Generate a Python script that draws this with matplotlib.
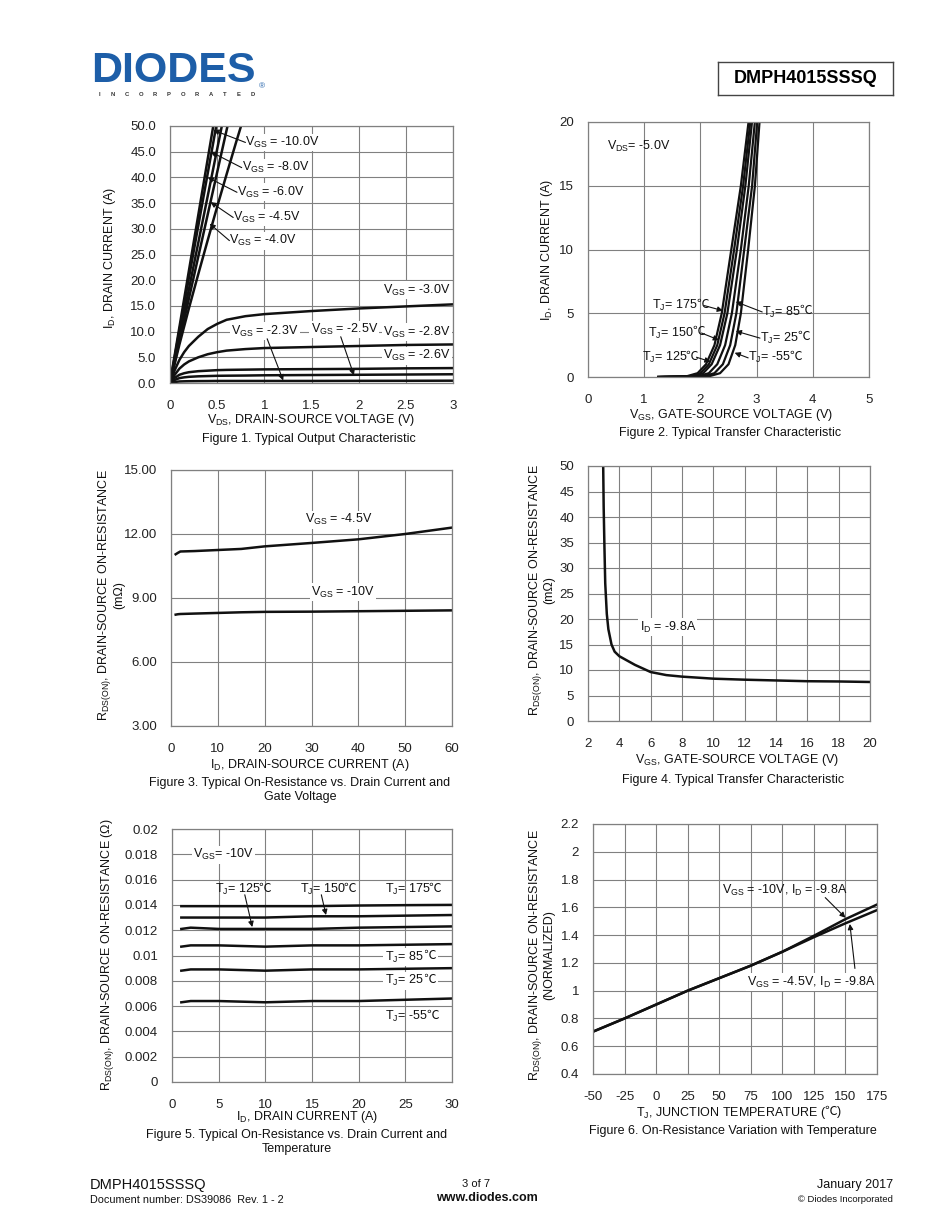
"""Datasheet page 3 of DMPH4015SSSQ: typical characteristics, figures 1-6."""

import matplotlib
matplotlib.use("Agg")
import matplotlib.pyplot as plt

plt.rcParams["font.family"] = ["Liberation Sans", "DejaVu Sans"]
plt.rcParams["mathtext.fontset"] = "custom"
plt.rcParams["mathtext.rm"] = "Liberation Sans"
plt.rcParams["mathtext.it"] = "Liberation Sans"
plt.rcParams["axes.unicode_minus"] = False

W, H = 950, 1230
GRID = "#808080"
BLUE = "#1d5ea8"
FS = 9
TICK_FS = 9.5
DEG_FONT = ["Noto Sans CJK JP", "DejaVu Sans"]

# ---- Figure 1: output characteristic
F1_VDS_STEEP = [0, 0.1, 0.2, 0.3, 0.4, 0.5, 0.6, 0.7, 0.8]
F1_ID_STEEP = {
    "-10.0V": [0, 10.9, 21.8, 32.7, 43.6, 54.5, 65, 76, 87],
    "-8.0V": [0, 10.2, 20.4, 30.6, 40.8, 51, 61, 71, 82],
    "-6.0V": [0, 9.1, 18.2, 27.3, 36.4, 45.5, 54.6, 63.7, 72.8],
    "-4.5V": [0, 8.2, 16.4, 24.6, 32.8, 41, 49.2, 57.4, 65.6],
    "-4.0V": [0, 7.5, 14.5, 21.2, 27.8, 34.3, 40.6, 46.8, 52.8],
}
F1_VDS_FLAT = [0, 0.05, 0.1, 0.15, 0.2, 0.3, 0.4, 0.5, 0.6, 0.8, 1.0, 1.5, 2.0, 2.5, 3.0]
F1_ID_FLAT = {
    "-3.0V": [0, 2.5, 4.5, 6.0, 7.2, 9.0, 10.5, 11.5, 12.3, 13.0, 13.4, 14.0, 14.5, 14.9, 15.3],
    "-2.8V": [0, 1.6, 2.8, 3.6, 4.2, 5.0, 5.6, 6.0, 6.3, 6.6, 6.8, 7.0, 7.2, 7.4, 7.5],
    "-2.6V": [0, 1.0, 1.6, 1.9, 2.1, 2.3, 2.4, 2.5, 2.55, 2.6, 2.65, 2.7, 2.75, 2.85, 2.9],
    "-2.5V": [0, 0.6, 0.95, 1.1, 1.2, 1.3, 1.35, 1.4, 1.42, 1.45, 1.5, 1.55, 1.6, 1.65, 1.7],
    "-2.3V": [0, 0.2, 0.3, 0.33, 0.35, 0.37, 0.38, 0.4, 0.4, 0.4, 0.4, 0.4, 0.42, 0.43, 0.45],
}
F1_XTICKS = [0, 0.5, 1, 1.5, 2, 2.5, 3]
F1_XLABELS = ["0", "0.5", "1", "1.5", "2", "2.5", "3"]
F1_YTICKS = [0, 5, 10, 15, 20, 25, 30, 35, 40, 45, 50]

# ---- Figure 2: transfer characteristic
F2_ID = [0, 0.05, 0.3, 1, 2.5, 5, 10, 15, 20.5]
F2_VGS = {
    "175": [1.25, 1.75, 1.95, 2.10, 2.25, 2.38, 2.55, 2.72, 2.87],
    "150": [1.25, 1.80, 2.00, 2.15, 2.30, 2.43, 2.60, 2.76, 2.90],
    "125": [1.25, 1.85, 2.05, 2.20, 2.35, 2.48, 2.65, 2.80, 2.93],
    "85": [1.25, 1.95, 2.15, 2.30, 2.44, 2.56, 2.72, 2.86, 2.98],
    "25": [1.25, 2.05, 2.25, 2.40, 2.53, 2.64, 2.78, 2.92, 3.02],
    "-55": [1.25, 2.15, 2.35, 2.50, 2.62, 2.72, 2.85, 2.97, 3.06],
}

# ---- Figure 3: Rds(on) vs drain current and gate voltage
F3_ID = [1, 1.5, 2, 5, 10, 15, 20, 30, 40, 50, 60]
F3_R45 = [11.05, 11.12, 11.18, 11.2, 11.25, 11.3, 11.42, 11.58, 11.75, 12.0, 12.3]
F3_R10 = [8.22, 8.24, 8.25, 8.27, 8.3, 8.33, 8.35, 8.36, 8.38, 8.4, 8.42]

# ---- Figure 4: Rds(on) vs gate voltage
F4_VGS = [2.97, 3.0, 3.05, 3.1, 3.2, 3.3, 3.5, 3.7, 4, 5, 6, 7, 8, 10, 12, 14, 16, 18, 20]
F4_R = [50, 42, 34, 27, 21, 18, 15, 13.6, 12.7, 11.0, 9.6, 9.0, 8.7, 8.3, 8.1, 7.95, 7.8, 7.75, 7.65]

# ---- Figure 5: Rds(on) vs drain current and temperature
F5_ID = [1, 2, 5, 10, 15, 20, 25, 30]
F5_R = {
    "175": [0.0139, 0.0139, 0.0139, 0.0139, 0.0139, 0.01395, 0.01398, 0.0140],
    "150": [0.0130, 0.0130, 0.0130, 0.0130, 0.0131, 0.0131, 0.01315, 0.0132],
    "125": [0.0121, 0.0122, 0.0121, 0.0121, 0.0121, 0.0122, 0.01225, 0.0123],
    "85": [0.0107, 0.0108, 0.0108, 0.0107, 0.0108, 0.0108, 0.01085, 0.0109],
    "25": [0.0088, 0.0089, 0.0089, 0.0088, 0.0089, 0.0089, 0.00895, 0.0090],
    "-55": [0.0063, 0.0064, 0.0064, 0.0063, 0.0064, 0.0064, 0.0065, 0.0066],
}
F5_YTICKS = [0, 0.002, 0.004, 0.006, 0.008, 0.01, 0.012, 0.014, 0.016, 0.018, 0.02]
F5_YLABELS = ["0", "0.002", "0.004", "0.006", "0.008", "0.01", "0.012",
              "0.014", "0.016", "0.018", "0.02"]

# ---- Figure 6: normalized Rds(on) vs temperature
F6_TJ = [-50, -25, 0, 25, 50, 75, 100, 125, 150, 175]
F6_R10 = [0.705, 0.80, 0.90, 1.0, 1.09, 1.18, 1.28, 1.395, 1.515, 1.62]
F6_R45 = [0.705, 0.80, 0.90, 1.0, 1.09, 1.18, 1.28, 1.385, 1.485, 1.58]
F6_YTICKS = [0.4, 0.6, 0.8, 1.0, 1.2, 1.4, 1.6, 1.8, 2.0, 2.2]
F6_YLABELS = ["0.4", "0.6", "0.8", "1", "1.2", "1.4", "1.6", "1.8", "2", "2.2"]

DEG_C = "\u2103"


def px(x, y):
    return x / W, 1 - y / H


def make_axes(fig, left, top, right, bottom):
    ax = fig.add_axes([left / W, 1 - bottom / H, (right - left) / W, (bottom - top) / H])
    ax.grid(True, color=GRID, linewidth=0.8)
    ax.set_axisbelow(True)
    for s in ax.spines.values():
        s.set_color(GRID)
        s.set_linewidth(0.9)
    ax.tick_params(length=0, labelsize=TICK_FS, pad=10, colors="#222222")
    ax.tick_params(axis="x", pad=12)
    return ax


def label(ax, text, x, y, ha="left", box=True):
    kw = dict(fontsize=FS, ha=ha, va="center", color="#111111", zorder=4)
    if box:
        kw["bbox"] = dict(facecolor="white", edgecolor="none", pad=1.0)
    return ax.text(x, y, text, **kw)


def deg_after(ax, txt, tail="", box=False):
    # the degree-Celsius sign is missing from the math font, so it is set as its own text;
    # it sits under the main label so the label's white box never hides a digit
    kw = dict(fontsize=FS, ha="left", va="center", color="#111111", zorder=3.9,
              family=DEG_FONT, textcoords="offset points")
    shift = -1.2
    if box:
        kw["bbox"] = dict(facecolor="white", edgecolor="none", pad=1.0)
        shift = 0.2
    t = ax.annotate(DEG_C, xy=(1, 0.58), xycoords=txt, xytext=(shift, 0), **kw)
    if tail:
        kw["family"] = ["Liberation Sans"]
        ax.annotate(tail, xy=(1, 0.5), xycoords=t, xytext=(0, 0), **kw)
    return t


def tj_label(ax, t, x, y, box=False):
    txt = label(ax, f"{TJ}= {t}", x, y, box=box)
    deg_after(ax, txt, box=box)


def arrow(ax, start, tip):
    ax.annotate("", xy=tip, xytext=start, zorder=5,
                arrowprops=dict(arrowstyle="-|>", color="#111111", lw=0.8,
                                mutation_scale=8, shrinkA=0, shrinkB=0))


def ftext(x, y, s, ha="center", rot=0, **kw):
    return fig.text(*px(x, y), s, ha=ha, va="center", rotation=rot,
                    fontsize=kw.pop("fontsize", FS), color=kw.pop("color", "#111111"), **kw)


fig = plt.figure(figsize=(W / 100, H / 100), dpi=100)
fig.set_facecolor("white")

VGS = r"V$_{\mathrm{GS}}$"
TJ = r"T$_{\mathrm{J}}$"

# ---------------- Figure 1
ax = make_axes(fig, 170, 126, 453, 383)
for ids in F1_ID_STEEP.values():
    ax.plot(F1_VDS_STEEP, ids, color="#111111", lw=1.8)
for ids in F1_ID_FLAT.values():
    ax.plot(F1_VDS_FLAT, ids, color="#111111", lw=1.8)
ax.set_xlim(0, 3)
ax.set_ylim(0, 50)
ax.set_xticks(F1_XTICKS, F1_XLABELS)
ax.set_yticks(F1_YTICKS, [f"{v:.1f}" for v in F1_YTICKS])
for name, xy, tip in [("-10.0V", (0.80, 46.8), (0.46, 49.2)),
                      ("-8.0V", (0.76, 41.9), (0.43, 45.0)),
                      ("-6.0V", (0.71, 37.1), (0.40, 40.0)),
                      ("-4.5V", (0.67, 32.2), (0.43, 35.2)),
                      ("-4.0V", (0.63, 27.7), (0.42, 31.0))]:
    label(ax, f"{VGS} = {name}", *xy)
    arrow(ax, xy, tip)
label(ax, f"{VGS} = -3.0V", 2.26, 18.1)
label(ax, f"{VGS} = -2.3V", 0.65, 10.1)
label(ax, f"{VGS} = -2.5V", 1.49, 10.4)
label(ax, f"{VGS} = -2.8V", 2.26, 9.9)
label(ax, f"{VGS} = -2.6V", 2.26, 5.3)
arrow(ax, (1.03, 8.6), (1.2, 0.5))
arrow(ax, (1.81, 9.0), (1.95, 1.5))
ftext(311, 420, r"V$_{\mathrm{DS}}$, DRAIN-SOURCE VOLTAGE (V)")
ftext(309, 439, "Figure 1. Typical Output Characteristic")
ftext(110, 258, r"I$_{\mathrm{D}}$, DRAIN CURRENT (A)", rot=90)

# ---------------- Figure 2
ax = make_axes(fig, 588, 122, 869, 377)
for vgs in F2_VGS.values():
    ax.plot(vgs, F2_ID, color="#111111", lw=1.6)
ax.set_xlim(0, 5)
ax.set_ylim(0, 20)
ax.set_xticks([0, 1, 2, 3, 4, 5])
ax.set_yticks([0, 5, 10, 15, 20])
label(ax, r"V$_{\mathrm{DS}}$= -5.0V", 0.34, 18.1, box=False)
for t, xy, start, tip in [("175", (1.14, 5.6), (2.07, 5.6), (2.40, 5.2)),
                          ("150", (1.07, 3.45), (2.02, 3.45), (2.33, 2.9)),
                          ("125", (0.96, 1.55), (1.93, 1.55), (2.18, 1.2)),
                          ("85", (3.10, 5.1), (3.10, 5.1), (2.63, 5.9)),
                          ("25", (3.06, 3.05), (3.06, 3.05), (2.63, 3.6)),
                          ("-55", (2.85, 1.5), (2.85, 1.5), (2.61, 1.9))]:
    tj_label(ax, t, *xy)
    arrow(ax, start, tip)
ftext(731, 415, r"V$_{\mathrm{GS}}$, GATE-SOURCE VOLTAGE (V)")
ftext(730, 433, "Figure 2. Typical Transfer Characteristic")
ftext(547, 250, r"I$_{\mathrm{D}}$, DRAIN CURRENT (A)", rot=90)

# ---------------- Figure 3
ax = make_axes(fig, 171, 470, 452, 726)
ax.plot(F3_ID, F3_R45, color="#111111", lw=1.8)
ax.plot(F3_ID, F3_R10, color="#111111", lw=1.8)
ax.set_xlim(0, 60)
ax.set_ylim(3, 15)
ax.set_xticks([0, 10, 20, 30, 40, 50, 60])
ax.set_yticks([3, 6, 9, 12, 15], ["3.00", "6.00", "9.00", "12.00", "15.00"])
label(ax, f"{VGS} = -4.5V", 28.6, 12.66)
label(ax, f"{VGS} = -10V", 29.9, 9.28)
ftext(310, 765, r"I$_{\mathrm{D}}$, DRAIN-SOURCE CURRENT (A)")
ftext(300, 783, "Figure 3. Typical On-Resistance vs. Drain Current and")
ftext(300, 797, "Gate Voltage")
ftext(105, 595, r"R$_{\mathrm{DS(ON)}}$, DRAIN-SOURCE ON-RESISTANCE", rot=90)
ftext(119, 595, "(m\u03a9)", rot=90)

# ---------------- Figure 4
ax = make_axes(fig, 588, 466, 870, 721)
ax.plot(F4_VGS, F4_R, color="#111111", lw=1.8)
ax.set_xlim(2, 20)
ax.set_ylim(0, 50)
ax.set_xticks(range(2, 21, 2))
ax.set_yticks(range(0, 51, 5))
label(ax, r"I$_{\mathrm{D}}$ = -9.8A", 5.3, 18.4)
ftext(737, 760, r"V$_{\mathrm{GS}}$, GATE-SOURCE VOLTAGE (V)")
ftext(733, 780, "Figure 4. Typical Transfer Characteristic")
ftext(535, 590, r"R$_{\mathrm{DS(ON)}}$, DRAIN-SOURCE ON-RESISTANCE", rot=90)
ftext(549, 590, "(m\u03a9)", rot=90)

# ---------------- Figure 5
ax = make_axes(fig, 172, 829, 452, 1082)
for r in F5_R.values():
    ax.plot(F5_ID, r, color="#111111", lw=1.8)
ax.set_xlim(0, 30)
ax.set_ylim(0, 0.02)
ax.set_xticks([0, 5, 10, 15, 20, 25, 30])
ax.set_yticks(F5_YTICKS, F5_YLABELS)
label(ax, f"{VGS}= -10V", 2.25, 0.01795)
tj_label(ax, "125", 4.6, 0.0152)
tj_label(ax, "150", 13.7, 0.0152)
tj_label(ax, "175", 22.8, 0.0152)
tj_label(ax, "85", 22.8, 0.00988, box=True)
tj_label(ax, "25", 22.8, 0.0080, box=True)
tj_label(ax, "-55", 22.8, 0.0052)
arrow(ax, (7.8, 0.0148), (8.6, 0.01225))
arrow(ax, (16.0, 0.0148), (16.5, 0.0132))
ftext(307, 1117, r"I$_{\mathrm{D}}$, DRAIN CURRENT (A)")
ftext(297, 1135, "Figure 5. Typical On-Resistance vs. Drain Current and")
ftext(297, 1149, "Temperature")
ftext(108, 955, r"R$_{\mathrm{DS(ON)}}$, DRAIN-SOURCE ON-RESISTANCE ($\Omega$)", rot=90)

# ---------------- Figure 6
ax = make_axes(fig, 593, 824, 877, 1074)
ax.plot(F6_TJ, F6_R10, color="#111111", lw=1.8)
ax.plot(F6_TJ, F6_R45, color="#111111", lw=1.8)
ax.set_xlim(-50, 175)
ax.set_ylim(0.4, 2.2)
ax.set_xticks(range(-50, 176, 25))
ax.set_yticks(F6_YTICKS, F6_YLABELS)
label(ax, r"V$_{\mathrm{GS}}$ = -10V, I$_{\mathrm{D}}$ = -9.8A", 52, 1.725, box=False)
label(ax, r"V$_{\mathrm{GS}}$ = -4.5V, I$_{\mathrm{D}}$ = -9.8A", 72, 1.06)
arrow(ax, (134, 1.67), (150, 1.525))
arrow(ax, (157.5, 1.16), (153.5, 1.48))
xl = ftext(636, 1113, r"T$_{\mathrm{J}}$, JUNCTION TEMPERATURE (", ha="left")
deg_after(ax, xl, tail=")")
ftext(733, 1131, "Figure 6. On-Resistance Variation with Temperature")
ftext(535, 955, r"R$_{\mathrm{DS(ON)}}$, DRAIN-SOURCE ON-RESISTANCE", rot=90)
ftext(549, 955, "(NORMALIZED)", rot=90)

# ---------------- Header
fig.text(*px(91, 71), "DIODES", fontsize=31, fontweight="bold", color=BLUE,
         ha="left", va="center")
fig.add_artist(plt.Line2D([97 / W, 240 / W], [1 - 71 / H, 1 - 71 / H],
                          color="white", lw=1.0))
for i, ch in enumerate("INCORPORATED"):
    fig.text(*px(99 + i * 14.0, 94), ch, fontsize=4.2, fontweight="bold",
             color="#333333", ha="center", va="center")
fig.text(*px(262, 87), "\u00ae", fontsize=6, color=BLUE, ha="center", va="center")
box_ax = fig.add_axes([718 / W, 1 - 95 / H, (893 - 718) / W, 33 / H])
box_ax.set_xticks([])
box_ax.set_yticks([])
for s in box_ax.spines.values():
    s.set_color("#444444")
    s.set_linewidth(1.0)
box_ax.text(0.5, 0.5, "DMPH4015SSSQ", fontsize=13, fontweight="bold",
            ha="center", va="center", transform=box_ax.transAxes)

# ---------------- Footer
ftext(90, 1185, "DMPH4015SSSQ", ha="left", fontsize=10.5)
ftext(90, 1200, "Document number: DS39086  Rev. 1 - 2", ha="left", fontsize=7.8)
ftext(476, 1184, "3 of 7", fontsize=8)
ftext(487, 1198, "www.diodes.com", fontsize=9, fontweight="bold")
ftext(893, 1185, "January 2017", ha="right", fontsize=9)
ftext(893, 1199, "\u00a9 Diodes Incorporated", ha="right", fontsize=6.8)

fig.savefig("out.png", dpi=100, facecolor="white")
